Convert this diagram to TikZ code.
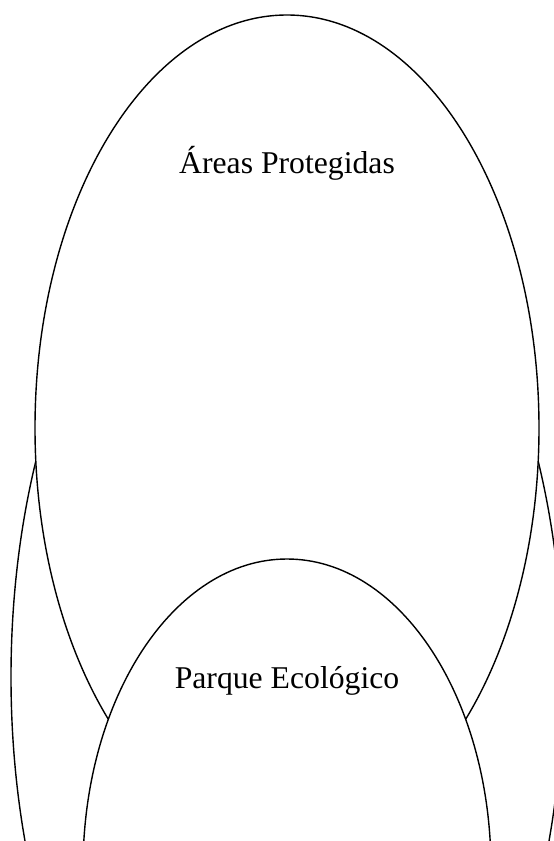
\documentclass[tikz,border=0pt]{standalone}
\usepackage{fontspec}
\setmainfont{Liberation Serif}
\begin{document}
\begin{tikzpicture}[x=1pt,y=-1pt,zone/.style={draw,fill=white,line width=1.4pt},lbl/.style={font=\fontsize{31.7}{38}\selectfont,anchor=base}]
\useasboundingbox (0,0) rectangle (554,841);
\clip (0,0) rectangle (554,841);
% three nested zones, back to front
\draw[zone] (287,677) ellipse [x radius=276,y radius=520];
\draw[zone] (287,428) ellipse [x radius=252,y radius=413];
\draw[zone] (287,869) ellipse [x radius=204,y radius=310];
\node[lbl] (areas) at (287,173) {Áreas Protegidas};
\node[lbl] (parque) at (287,688) {Parque Ecológico};
\end{tikzpicture}
\end{document}
